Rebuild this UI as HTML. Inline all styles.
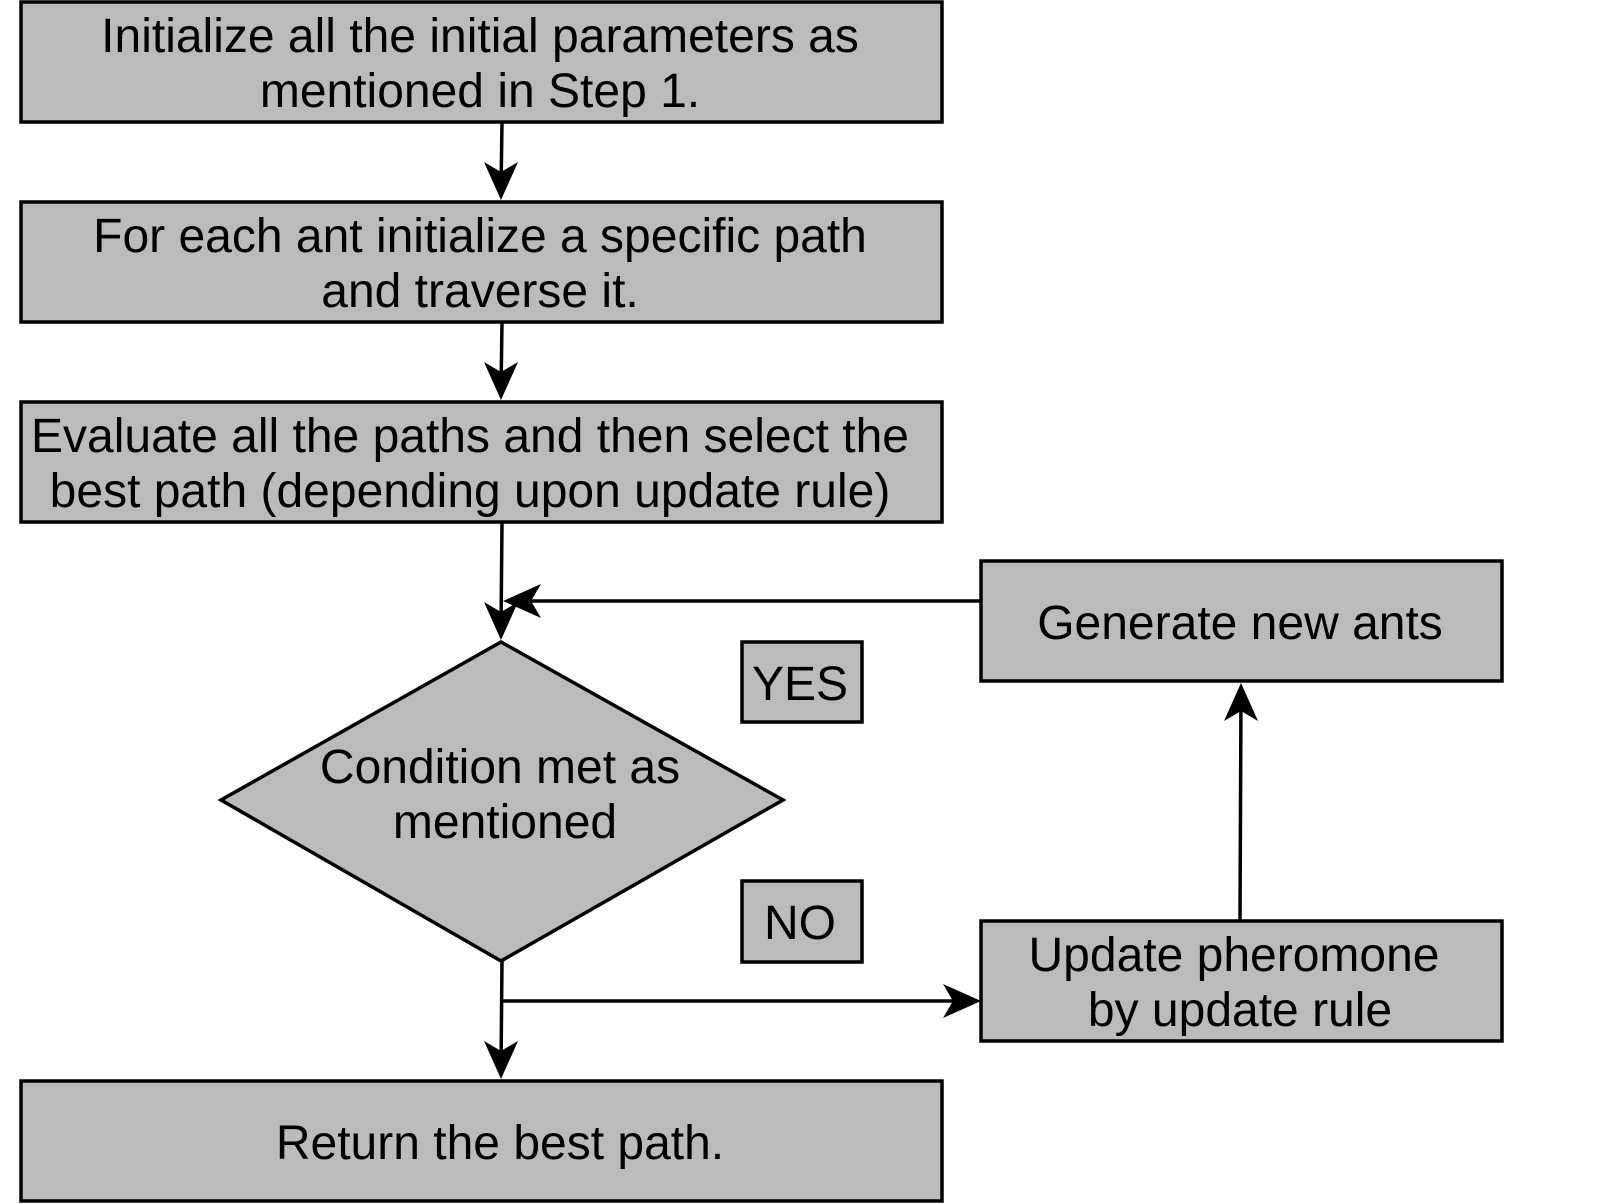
<!DOCTYPE html>
<html><head><style>
html,body{margin:0;padding:0;background:#fff;}
svg{display:block;}
text{font-family:"Liberation Sans",Arial,sans-serif;font-size:48px;fill:#000;text-anchor:middle;}
</style></head><body>
<svg width="1624" height="1204" viewBox="0 0 1624 1204" xmlns="http://www.w3.org/2000/svg">
<g fill="#bbbbbb" stroke="#000" stroke-width="3.5">
<rect x="21" y="2" width="921" height="120"/>
<rect x="21" y="202" width="921" height="120"/>
<rect x="21" y="402" width="921" height="120"/>
<rect x="21" y="1081" width="921" height="120"/>
<rect x="981" y="561" width="521" height="120"/>
<rect x="981" y="921" width="521" height="120"/>
<polygon points="221,800 501,642 783,800 501,961"/>
<rect x="742" y="642" width="120" height="80"/>
<rect x="742" y="881" width="120" height="81"/>
</g>
<g stroke="#000" stroke-width="3.5" fill="none">
<line x1="502" y1="122" x2="501" y2="190"/>
<line x1="502" y1="322" x2="501" y2="390"/>
<line x1="502" y1="522" x2="501" y2="630"/>
<line x1="981" y1="601" x2="515" y2="601"/>
<line x1="502" y1="961" x2="501" y2="1069"/>
<line x1="502" y1="1001" x2="969" y2="1001"/>
<line x1="1240" y1="921" x2="1241" y2="695"/>
</g>
<g fill="#000">
<polygon points="501,200 484,162 501,172 518,162"/>
<polygon points="501,400 484,362 501,372 518,362"/>
<polygon points="501,640 484,602 501,612 518,602"/>
<polygon points="503,601 541,584 531,601 541,618"/>
<polygon points="501,1079 484,1041 501,1051 518,1041"/>
<polygon points="981,1001 943,984 953,1001 943,1018"/>
<polygon points="1241,683 1224,721 1241,711 1258,721"/>
</g>
<text x="480" y="52">Initialize all the initial parameters as</text>
<text x="480" y="107">mentioned in Step 1.</text>
<text x="480" y="252">For each ant initialize a specific path</text>
<text x="480" y="307">and traverse it.</text>
<text x="470" y="452">Evaluate all the paths and then select the</text>
<text x="470" y="507">best path (depending upon update rule)</text>
<text x="500" y="783">Condition met as</text>
<text x="505" y="838">mentioned</text>
<text x="1240" y="639">Generate new ants</text>
<text x="1234" y="971">Update pheromone</text>
<text x="1240" y="1026">by update rule</text>
<text x="500" y="1159">Return the best path.</text>
<text x="800" y="700">YES</text>
<text x="800" y="939">NO</text>
</svg>
</body></html>
